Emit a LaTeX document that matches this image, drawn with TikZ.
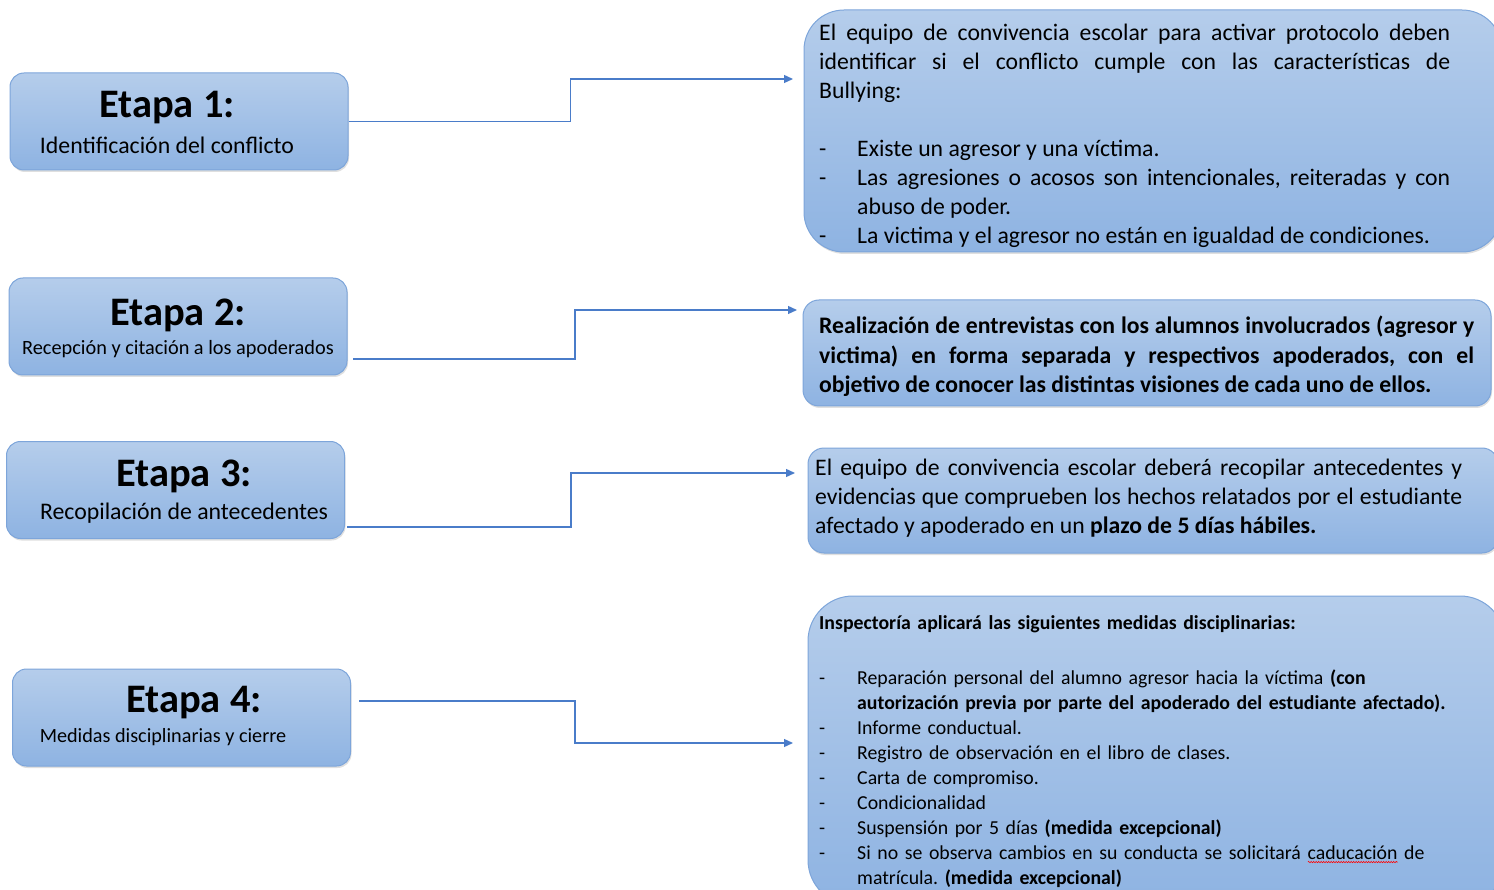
\documentclass[tikz,border=0pt]{standalone}
\usepackage{fontspec}
\setmainfont{Carlito}
\usetikzlibrary{arrows.meta,shadows,positioning,decorations.pathmorphing}

\definecolor{cajaarriba}{HTML}{B5CDEB}
\definecolor{cajaabajo}{HTML}{8EB3E2}
\definecolor{cajaborde}{HTML}{7DA5DA}
\definecolor{flechaazul}{HTML}{4A7CC9}

\newcommand{\guion}{\par\hangindent=38pt\hangafter=1\noindent\makebox[38pt][l]{-}}
\newsavebox{\cajapalabra}
\newcommand{\ondulado}[1]{\sbox{\cajapalabra}{#1}\rlap{\tikz[baseline=0pt]\draw[red,line width=0.6pt,decorate,decoration={snake,amplitude=0.7pt,segment length=2.5pt}] (0pt,-3pt) -- (\wd\cajapalabra,-3pt);}\usebox{\cajapalabra}}
\frenchspacing

\begin{document}
\begin{tikzpicture}[x=1pt,y=-1pt,
	caja/.style={draw=cajaborde, line width=1pt, top color=cajaarriba, bottom color=cajaabajo,
		drop shadow={opacity=0.25, shadow xshift=1pt, shadow yshift=-2pt}},
	etapa/.style={caja, rounded corners=14pt, minimum width=338pt, minimum height=97pt},
	titulo/.style={inner sep=0pt, font=\fontsize{40.5}{44}\bfseries\selectfont},
	sub/.style={inner sep=0pt, font=\fontsize{#1}{#1}\selectfont},
	texto/.style={anchor=north west, inner sep=0pt, text width=#1, align=justify,
		font=\fontsize{23.7}{29}\selectfont},
	flecha/.style={draw=flechaazul, line width=1.3pt, -{Triangle[length=9pt,width=8pt]}}]
	\useasboundingbox (0,0) rectangle (1494,890);
	\clip (0,0) rectangle (1494,890);

	\node[etapa] (e1) at (179,121.5) {};
	\node[etapa] (e2) at (178,326.5) {};
	\node[etapa] (e3) at (175.5,490) {};
	\node[etapa] (e4) at (181.5,717.5) {};

	\node[titulo] (t1) at (167,108) {Etapa 1:};
	\node[sub=23.8] (s1) at (167,145) {Identificación del conflicto};
	\node[titulo] (t2) at (178,315) {Etapa 2:};
	\node[sub=20.3] (s2) at (178,349) {Recepción y citación a los apoderados};
	\node[titulo] (t3) at (184,476) {Etapa 3:};
	\node[sub=23.8] (s3) at (184,513) {Recopilación de antecedentes};
	\node[titulo] (t4) at (194,703) {Etapa 4:};
	\node[sub=20.2] (s4) at (163,737) {Medidas disciplinarias y cierre};

	\node[caja, rounded corners=40pt, minimum width=698pt, minimum height=242pt] (r1) at (1153,131) {};
	\node[caja, rounded corners=16pt, minimum width=688pt, minimum height=106pt] (r2) at (1147,353) {};
	\node[caja, rounded corners=16pt, minimum width=690pt, minimum height=105pt] (r3) at (1153,500.5) {};
	\node[caja, rounded corners=45pt, minimum width=697pt, minimum height=309pt] (r4) at (1156.5,750.5) {};

	\node[texto=631pt] (x1) at (819,24) {El equipo de convivencia escolar para activar protocolo deben\linebreak
		identificar si el conflicto cumple con las características de\linebreak
		Bullying:\par\vspace{29pt}
		\guion Existe un agresor y una víctima.
		\guion Las agresiones o acosos son intencionales, reiteradas y con\linebreak abuso de poder.
		\guion La victima y el agresor no están en igualdad de condiciones.\par};
	\node[texto=655pt, font=\fontsize{23.7}{29.5}\bfseries\selectfont] (x2) at (819,316) {Realización de entrevistas con los alumnos involucrados (agresor y\linebreak
		victima) en forma separada y respectivos apoderados, con el\linebreak
		objetivo de conocer las distintas visiones de cada uno de ellos.};
	\node[texto=647pt] (x3) at (815,459) {El equipo de convivencia escolar deberá recopilar antecedentes y\linebreak
		evidencias que comprueben los hechos relatados por el estudiante\linebreak
		afectado y apoderado en un \textbf{plazo de 5 días hábiles.}};
	\node[texto=660pt, align=left, font=\fontsize{19.8}{25}\selectfont] (x4) at (819,615) {{\bfseries Inspectoría aplicará las siguientes medidas disciplinarias:}\par\vspace{30pt}
		\guion Reparación personal del alumno agresor hacia la víctima \textbf{(con}\newline
		\textbf{autorización previa por parte del apoderado del estudiante afectado).}
		\guion Informe conductual.
		\guion Registro de observación en el libro de clases.
		\guion Carta de compromiso.
		\guion Condicionalidad
		\guion Suspensión por 5 días \textbf{(medida excepcional)}
		\guion Si no se observa cambios en su conducta se solicitará \ondulado{caducación} de\newline
		matrícula. \textbf{(medida excepcional)}\par};

	\coordinate (a1) at (793,79);
	\coordinate (i2) at (353,359);
	\coordinate (a2) at (797,310);
	\coordinate (i3) at (347,527);
	\coordinate (a3) at (795,473);
	\coordinate (i4) at (359,701);
	\coordinate (a4) at (793,743);

	\draw[flecha] (e1.east) -- ++(222,0) |- (a1);
	\draw[flecha] (i2) -- ++(222,0) |- (a2);
	\draw[flecha] (i3) -- ++(224,0) |- (a3);
	\draw[flecha] (i4) -- ++(216,0) |- (a4);
\end{tikzpicture}
\end{document}
